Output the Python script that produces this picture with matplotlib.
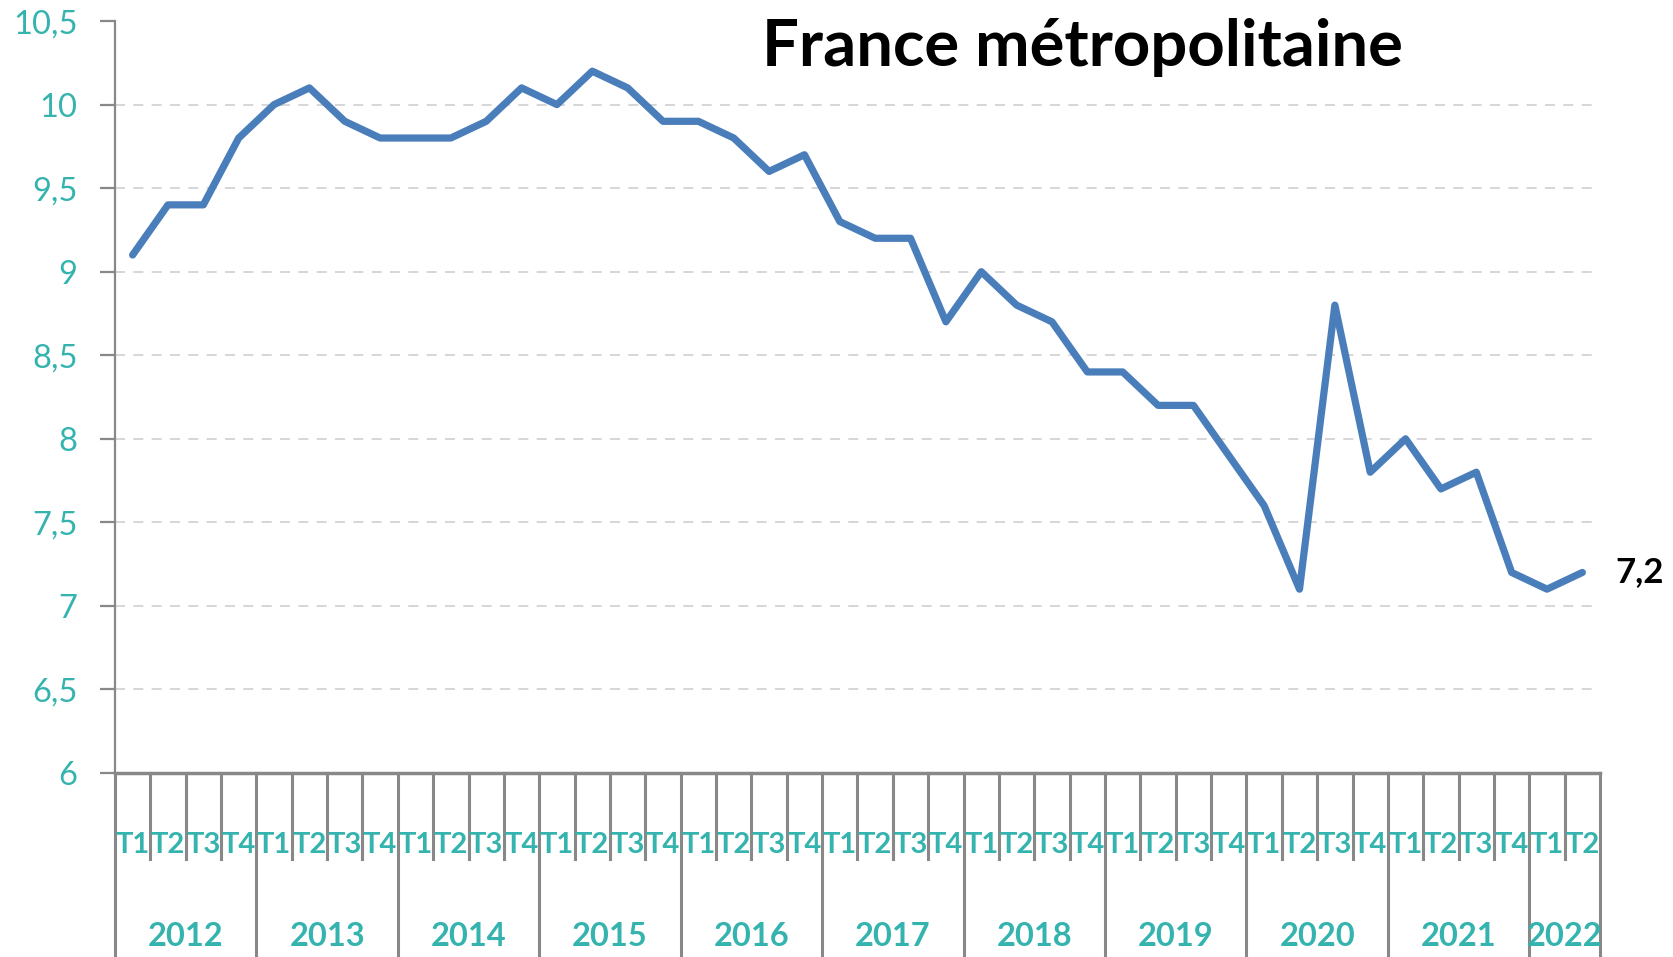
import matplotlib
matplotlib.use("Agg")
import matplotlib.pyplot as plt

# Taux de chômage, France métropolitaine (%)
years = ["2012", "2013", "2014", "2015", "2016", "2017", "2018", "2019", "2020", "2021", "2022"]
quarter_labels = ["T1", "T2", "T3", "T4"] * 10 + ["T1", "T2"]
taux = [9.1, 9.4, 9.4, 9.8,
        10.0, 10.1, 9.9, 9.8,
        9.8, 9.8, 9.9, 10.1,
        10.0, 10.2, 10.1, 9.9,
        9.9, 9.8, 9.6, 9.7,
        9.3, 9.2, 9.2, 8.7,
        9.0, 8.8, 8.7, 8.4,
        8.4, 8.2, 8.2, 7.9,
        7.6, 7.1, 8.8, 7.8,
        8.0, 7.7, 7.8, 7.2,
        7.1, 7.2]
yticks = [6, 6.5, 7, 7.5, 8, 8.5, 9, 9.5, 10, 10.5]
ytick_labels = ["6", "6,5", "7", "7,5", "8", "8,5", "9", "9,5", "10", "10,5"]
title = "France métropolitaine"

teal = "#35b3ae"
blue = "#4a7ebb"
axis_grey = "#888888"

plt.rcParams["font.family"] = ["Lato", "DejaVu Sans"]

fig = plt.figure(figsize=(16.73, 9.57), dpi=100)
ax = fig.add_axes([0.0687, 0.1923, 0.8877, 0.7857])

x = list(range(len(taux)))
ax.plot(x, taux, color=blue, linewidth=5.2, solid_joinstyle="round", solid_capstyle="round", zorder=3)

ax.set_xlim(-0.5, len(taux) - 0.5)
ax.set_ylim(6, 10.5)
ax.set_yticks(yticks)
ax.set_yticklabels(ytick_labels)
for y in yticks[1:-1]:
    ax.axhline(y, color="#cfcfcf", linewidth=1.2, linestyle=(0, (6, 5)), zorder=1)

ax.spines["top"].set_visible(False)
ax.spines["right"].set_visible(False)
ax.spines["left"].set_color(axis_grey)
ax.spines["left"].set_linewidth(1.6)
ax.spines["bottom"].set_color(axis_grey)
ax.spines["bottom"].set_linewidth(2.5)
ax.tick_params(axis="y", colors=axis_grey, labelcolor=teal, labelsize=23.5,
               length=11, width=1.6, pad=16)
ax.set_xticks([])

# quarter / year category axis
tr = ax.get_xaxis_transform()
for k in range(len(taux) + 1):
    bx = k - 0.5
    if k % 4 == 0 or k == len(taux):
        ax.plot([bx, bx], [0, -0.245], transform=tr, color=axis_grey, linewidth=2.2, clip_on=False)
    else:
        ax.plot([bx, bx], [0, -0.114], transform=tr, color=axis_grey, linewidth=2.2, clip_on=False)
for k, lab in enumerate(quarter_labels):
    ax.text(k, -0.096, lab, transform=tr, ha="center", va="center",
            color=teal, fontsize=21, fontweight="bold")
for i, yr in enumerate(years):
    start = 4 * i
    end = min(4 * i + 4, len(taux))
    ax.text((start + end - 1) / 2, -0.217, yr, transform=tr, ha="center", va="center",
            color=teal, fontsize=23.5, fontweight="bold")

# last value label
ax.annotate("7,2", (x[-1], taux[-1]), xytext=(24, 0), textcoords="offset points",
            ha="left", va="center", fontsize=25, fontweight="bold", color="black",
            annotation_clip=False)

fig.text(0.647, 0.931, title, ha="center", va="baseline", fontsize=47,
         fontweight="bold", color="black")

fig.savefig("out.png", dpi=100)
